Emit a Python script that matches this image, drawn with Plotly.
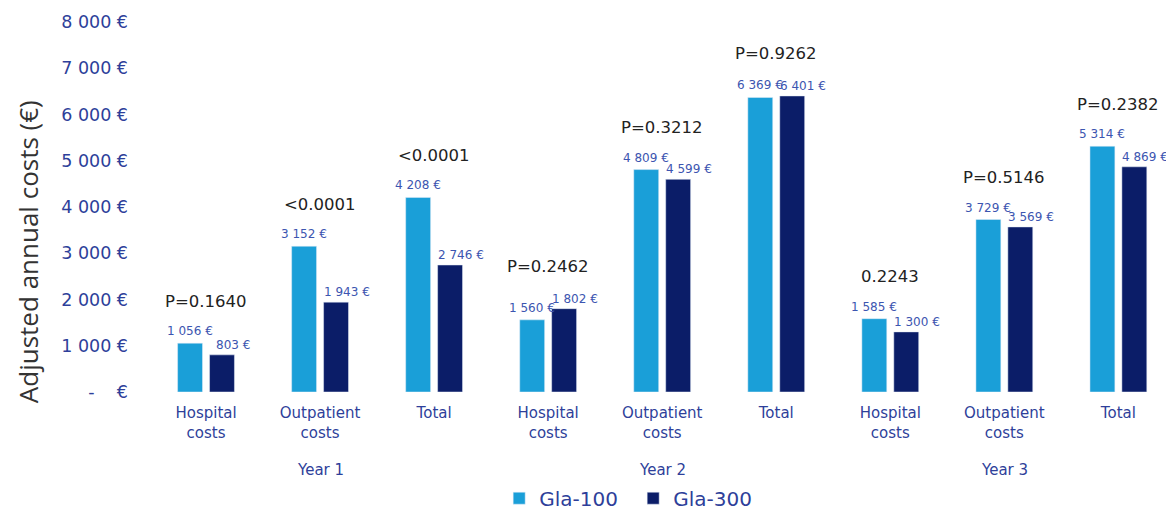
import plotly.graph_objects as go

categories = ["Hospital<br>costs", "Outpatient<br>costs", "Total",
              "Hospital<br>costs", "Outpatient<br>costs", "Total",
              "Hospital<br>costs", "Outpatient<br>costs", "Total"]
years = ["Year 1", "Year 2", "Year 3"]
gla100 = [1056, 3152, 4208, 1560, 4809, 6369, 1585, 3729, 5314]
gla300 = [803, 1943, 2746, 1802, 4599, 6401, 1300, 3569, 4869]
pvalues = ["P=0.1640", "<0.0001", "<0.0001", "P=0.2462", "P=0.3212",
           "P=0.9262", "0.2243", "P=0.5146", "P=0.2382"]
ytick_vals = [0, 1000, 2000, 3000, 4000, 5000, 6000, 7000, 8000]
ytick_text = ["-    €", "1 000 €", "2 000 €", "3 000 €", "4 000 €",
              "5 000 €", "6 000 €", "7 000 €", "8 000 €"]

LIGHT = "#1a9fd8"
DARK = "#0b1d68"
TICKBLUE = "#2e3f9a"
LABELBLUE = "#3c55b0"
FONT = "DejaVu Sans"

x = list(range(len(categories)))

def fmt(v):
    return f"{v:,}".replace(",", " ") + " €"

fig = go.Figure()
fig.add_trace(go.Bar(x=x, y=gla100, name="Gla-100", marker_color=LIGHT))
fig.add_trace(go.Bar(x=x, y=gla300, name="Gla-300", marker_color=DARK))

ann = []
for i in x:
    ann.append(dict(x=i, y=gla100[i], xref="x", yref="y", text=fmt(gla100[i]),
                    showarrow=False, xshift=-16, yshift=12,
                    font=dict(family=FONT, size=12, color=LABELBLUE)))
    ann.append(dict(x=i, y=gla300[i], xref="x", yref="y", text=fmt(gla300[i]),
                    showarrow=False, xshift=27, yshift=10,
                    font=dict(family=FONT, size=12, color=LABELBLUE)))
    ann.append(dict(x=i, y=max(gla100[i], gla300[i]), xref="x", yref="y",
                    text=pvalues[i], showarrow=False, yshift=42,
                    font=dict(family=FONT, size=16.5, color="#222222")))
for k, yr in enumerate(years):
    ann.append(dict(x=3 * k + 1, y=-0.21, xref="x", yref="paper", text=yr,
                    showarrow=False, yanchor="middle",
                    font=dict(family=FONT, size=15, color=TICKBLUE)))
ann.append(dict(x=(20 - 141) / 1015, y=0.378, xref="paper", yref="paper",
                xanchor="center", yanchor="middle",
                text="Adjusted annual costs (€)", textangle=-90,
                showarrow=False, font=dict(family="Open Sans", size=26, color="#333333")))

fig.update_layout(
    width=1166, height=505,
    margin=dict(l=141, r=10, t=14, b=121, autoexpand=False),
    plot_bgcolor="white", paper_bgcolor="white",
    barmode="group", bargap=0.44, bargroupgap=0.22,
    annotations=ann,
    showlegend=True,
    legend=dict(orientation="h", x=0.345, xanchor="left", y=-0.287, yanchor="middle",
                font=dict(family=FONT, size=20, color=TICKBLUE),
                itemwidth=30, entrywidth=89, entrywidthmode="pixels", tracegroupgap=0),
    xaxis=dict(tickmode="array", tickvals=x, ticktext=categories,
               range=[-0.5, 8.4], showgrid=False, zeroline=False, showline=False,
               ticks="", automargin=False, ticklabelstandoff=10,
               tickfont=dict(family=FONT, size=15, color=TICKBLUE)),
    yaxis=dict(tickmode="array", tickvals=ytick_vals, ticktext=ytick_text,
               range=[0, 8000], showgrid=False, zeroline=False, showline=False,
               ticks="", ticklabelstandoff=20, automargin=False,
               tickfont=dict(family=FONT, size=17.5, color=TICKBLUE)),
)

fig.write_html("out.html")
